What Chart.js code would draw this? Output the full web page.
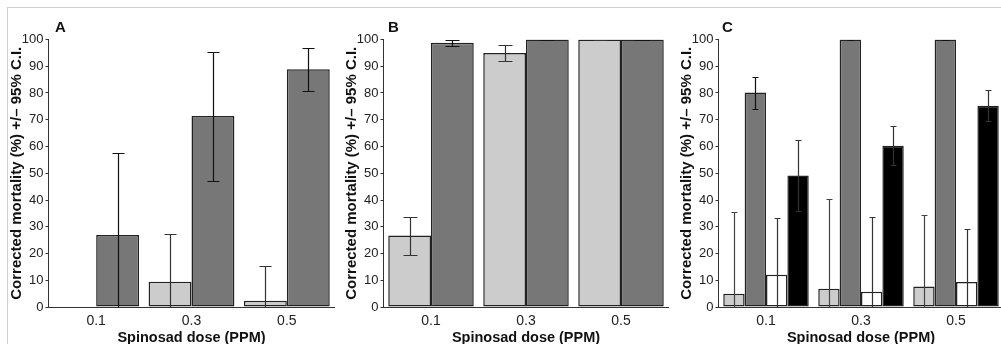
<!DOCTYPE html>
<html>
<head>
<meta charset="utf-8">
<script src="https://cdn.jsdelivr.net/npm/chart.js@4.4.1/dist/chart.umd.min.js"></script>
<style>
  html, body { margin: 0; padding: 0; background: #fff; overflow: hidden; }
  #page { position: relative; width: 1001px; height: 344px; overflow: hidden; background: #fff; }
  #frame { position: absolute; left: 7px; top: 7px; width: 1100px; height: 400px;
           border-top: 1px solid #cfcfcf; border-left: 1px solid #cfcfcf; }
  .panel { position: absolute; top: 0; width: 336px; height: 344px; overflow: hidden; }
  .panel canvas { position: absolute; left: 0; top: 0; }
  .plabel { position: absolute; top: 19px; font: bold 15px "Liberation Sans", Arial, sans-serif; color: #111; line-height: 15px; }
</style>
</head>
<body>
<div id="page">
  <div id="frame"></div>
  <div class="panel" style="left:0px"><canvas id="cA" width="336" height="350"></canvas></div>
  <div class="panel" style="left:335px"><canvas id="cB" width="336" height="350"></canvas></div>
  <div class="panel" style="left:670px;width:331px"><canvas id="cC" width="336" height="350"></canvas></div>
  <div class="plabel" style="left:55px">A</div>
  <div class="plabel" style="left:388px">B</div>
  <div class="plabel" style="left:722px">C</div>
</div>
<script>
// ---------- data ----------
const categories = ['0.1', '0.3', '0.5'];
const yTitle = 'Corrected mortality (%) +/\u2013 95% C.I.';
const xTitle = 'Spinosad dose (PPM)';

// Panel A
const aLight   = [0, 9.4, 2.3];
const aLightLo = [null, 0, 0];
const aLightHi = [null, 27.3, 15.2];
const aDark    = [26.9, 71.4, 88.9];
const aDarkLo  = [0, 47, 80.8];
const aDarkHi  = [57.4, 95.4, 96.9];

// Panel B
const bLight   = [26.7, 95, 100];
const bLightLo = [19.6, 91.9, 100];
const bLightHi = [33.6, 98.1, 100];
const bDark    = [98.8, 100, 100];
const bDarkLo  = [97.5, 100, 100];
const bDarkHi  = [99.8, 100, 100];

// Panel C
const cLight   = [5, 6.8, 7.7];
const cLightLo = [0, 0, 0];
const cLightHi = [35.6, 40.3, 34.3];
const cDark    = [80.2, 100, 100];
const cDarkLo  = [74, 100, 100];
const cDarkHi  = [85.9, 100, 100];
const cWhite   = [12.1, 5.7, 9.3];
const cWhiteLo = [0, 0, 0];
const cWhiteHi = [33.1, 33.6, 29.2];
const cBlack   = [49.2, 60.3, 75.2];
const cBlackLo = [36, 53, 69.5];
const cBlackHi = [62.4, 67.7, 81];

// ---------- styling ----------
const FONT = '"Liberation Sans", Arial, Helvetica, sans-serif';
const LIGHT = '#cccccc', DARK = '#777777', BLACK = '#000000', WHITE = '#ffffff';
const EDGE = '#222222';

const errorBarPlugin = {
  id: 'errorBars',
  afterDatasetsDraw(chart, args, opts) {
    const ctx = chart.ctx;
    const ys = chart.scales.y;
    const cap = opts.cap || 5;
    chart.data.datasets.forEach((ds, di) => {
      if (!ds.errLo) return;
      const meta = chart.getDatasetMeta(di);
      meta.data.forEach((bar, i) => {
        const lo = ds.errLo[i], hi = ds.errHi[i];
        if (lo == null || hi == null) return;
        const x = Math.round(bar.x) + 0.5;
        const yLo = Math.round(ys.getPixelForValue(lo)) + 0.5;
        const yHi = Math.round(ys.getPixelForValue(hi)) + 0.5;
        ctx.save();
        ctx.strokeStyle = ds.errColor || '#222';
        ctx.lineWidth = 1.2;
        ctx.beginPath();
        ctx.moveTo(x, yLo); ctx.lineTo(x, yHi);
        ctx.moveTo(x - cap, yHi); ctx.lineTo(x + cap, yHi);
        if (lo > 0) { ctx.moveTo(x - cap, yLo); ctx.lineTo(x + cap, yLo); }
        ctx.stroke();
        ctx.restore();
      });
    });
  }
};

function makeChart(id, datasets, padRight, cap) {
  datasets.forEach(d => {
    d.borderColor = EDGE;
    d.borderWidth = 1.5;
    d.borderSkipped = false;
  });
  return new Chart(document.getElementById(id), {
    type: 'bar',
    data: { labels: categories, datasets },
    plugins: [errorBarPlugin],
    options: {
      responsive: false,
      animation: false,
      events: [],
      layout: { padding: { top: 39.5, left: 0, right: padRight, bottom: 0 } },
      datasets: { bar: { categoryPercentage: 0.9, barPercentage: 1.0 } },
      plugins: { legend: { display: false }, tooltip: { enabled: false }, errorBars: { cap } },
      scales: {
        x: {
          offset: true,
          grid: { display: false, drawTicks: false },
          border: { display: true, color: '#333', width: 1 },
          ticks: { color: '#222', font: { family: FONT, size: 14 }, padding: 6, maxRotation: 0 },
          title: { display: true, text: xTitle, color: '#111', font: { family: FONT, size: 14.5, weight: 'bold' }, padding: { top: 0, bottom: 3.3 } },
          afterFit(s) { s.height = 43; s.paddingLeft = 0; s.paddingRight = 0; }
        },
        y: {
          min: 0, max: 100,
          ticks: { stepSize: 10, color: '#222', font: { family: FONT, size: 13 }, padding: 2 },
          grid: { drawOnChartArea: false, drawTicks: true, tickLength: 3, color: '#333' },
          border: { display: true, color: '#333', width: 1 },
          title: { display: true, text: yTitle, color: '#111', font: { family: FONT, size: 15, weight: 'bold' }, padding: { top: 8, bottom: 0 } },
          afterFit(s) { s.width = 48.5; s.paddingTop = 0; s.paddingBottom = 0; }
        }
      }
    }
  });
}

makeChart('cA', [
  { data: aLight, backgroundColor: LIGHT, errLo: aLightLo, errHi: aLightHi, errColor: '#333' },
  { data: aDark,  backgroundColor: DARK,  errLo: aDarkLo,  errHi: aDarkHi,  errColor: '#111' }
], 1.5, 6);

makeChart('cB', [
  { data: bLight, backgroundColor: LIGHT, errLo: bLightLo, errHi: bLightHi, errColor: '#333' },
  { data: bDark,  backgroundColor: DARK,  errLo: bDarkLo,  errHi: bDarkHi,  errColor: '#111' }
], 2.5, 7);

makeChart('cC', [
  { data: cLight, backgroundColor: LIGHT, errLo: cLightLo, errHi: cLightHi, errColor: '#444' },
  { data: cDark,  backgroundColor: DARK,  errLo: cDarkLo,  errHi: cDarkHi,  errColor: '#111' },
  { data: cWhite, backgroundColor: WHITE, errLo: cWhiteLo, errHi: cWhiteHi, errColor: '#333' },
  { data: cBlack, backgroundColor: BLACK, errLo: cBlackLo, errHi: cBlackHi, errColor: '#333' }
], 2.5, 3);
</script>
</body>
</html>
